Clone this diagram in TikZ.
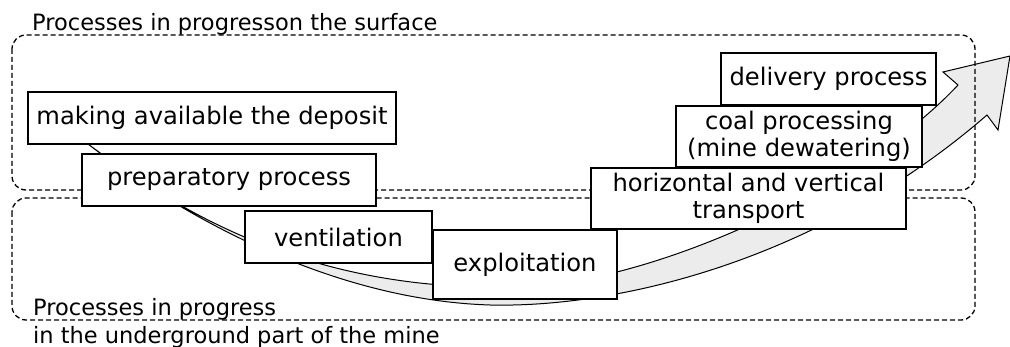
\documentclass[tikz,border=0pt]{standalone}
\usepackage{fontspec}
\setmainfont{DejaVu Sans}
\definecolor{arrowfill}{RGB}{236,236,236}
\begin{document}
\begin{tikzpicture}[x=1pt,y=-1pt,
  procbox/.style={draw, fill=white, line width=1.7pt, inner sep=0pt, align=center,
    font=\fontsize{24.2}{27}\selectfont},
  zone/.style={draw, dash pattern=on 5pt off 3pt, line width=1.3pt, rounded corners=14pt},
  zonelabel/.style={anchor=base west, inner sep=0pt, font=\fontsize{22.5}{29}\selectfont},
  bigarrow/.style={draw, line width=1pt, fill=arrowfill, line join=miter}]
\useasboundingbox (0,0) rectangle (1010,347);

% curved arrow band
\coordinate (tail) at (88,144);
\coordinate (upmid) at (505,287);
\coordinate (lowmid) at (490,305);
\coordinate (notchA) at (958,85);
\coordinate (barbA) at (943,72);
\coordinate (tip) at (1010,56);
\coordinate (barbB) at (998,130);
\coordinate (notchB) at (987,115);
\path[bigarrow] (tail)
  .. controls (170,205) and (300,290) .. (upmid)
  .. controls (640,290) and (860,190) .. (notchA)
  -- (barbA) -- (tip) -- (barbB) -- (notchB)
  .. controls (820,260) and (620,308) .. (lowmid)
  .. controls (330,300) and (180,215) .. (tail)
  -- cycle;

% zones
\draw[zone] (12,35) rectangle (975,190);
\draw[zone] (12,198) rectangle (975,320);

% process boxes
\node[procbox, minimum width=368pt, minimum height=52pt] (deposit) at (212,118) {making available the deposit};
\node[procbox, minimum width=294pt, minimum height=52pt] (prep) at (229,180) {preparatory process};
\node[procbox, minimum width=187pt, minimum height=52pt] (vent) at (338.5,237) {ventilation};
\node[procbox, minimum width=184pt, minimum height=69pt] (exploit) at (525,264.5) {exploitation};
\node[procbox, minimum width=315pt, minimum height=61pt] (transport) at (748.5,198.5) {horizontal and vertical\\transport};
\node[procbox, minimum width=246pt, minimum height=61pt] (coal) at (799,136.5) {coal processing\\(mine dewatering)};
\node[procbox, minimum width=215pt, minimum height=52pt] (delivery) at (828.5,79) {delivery process};

% zone labels
\node[zonelabel] (surf) at (32,30.5) {Processes in progresson the surface};
\node[zonelabel] (under1) at (33,315.5) {Processes in progress};
\node[zonelabel] (under2) at (33,343.5) {in the underground part of the mine};
\end{tikzpicture}
\end{document}
